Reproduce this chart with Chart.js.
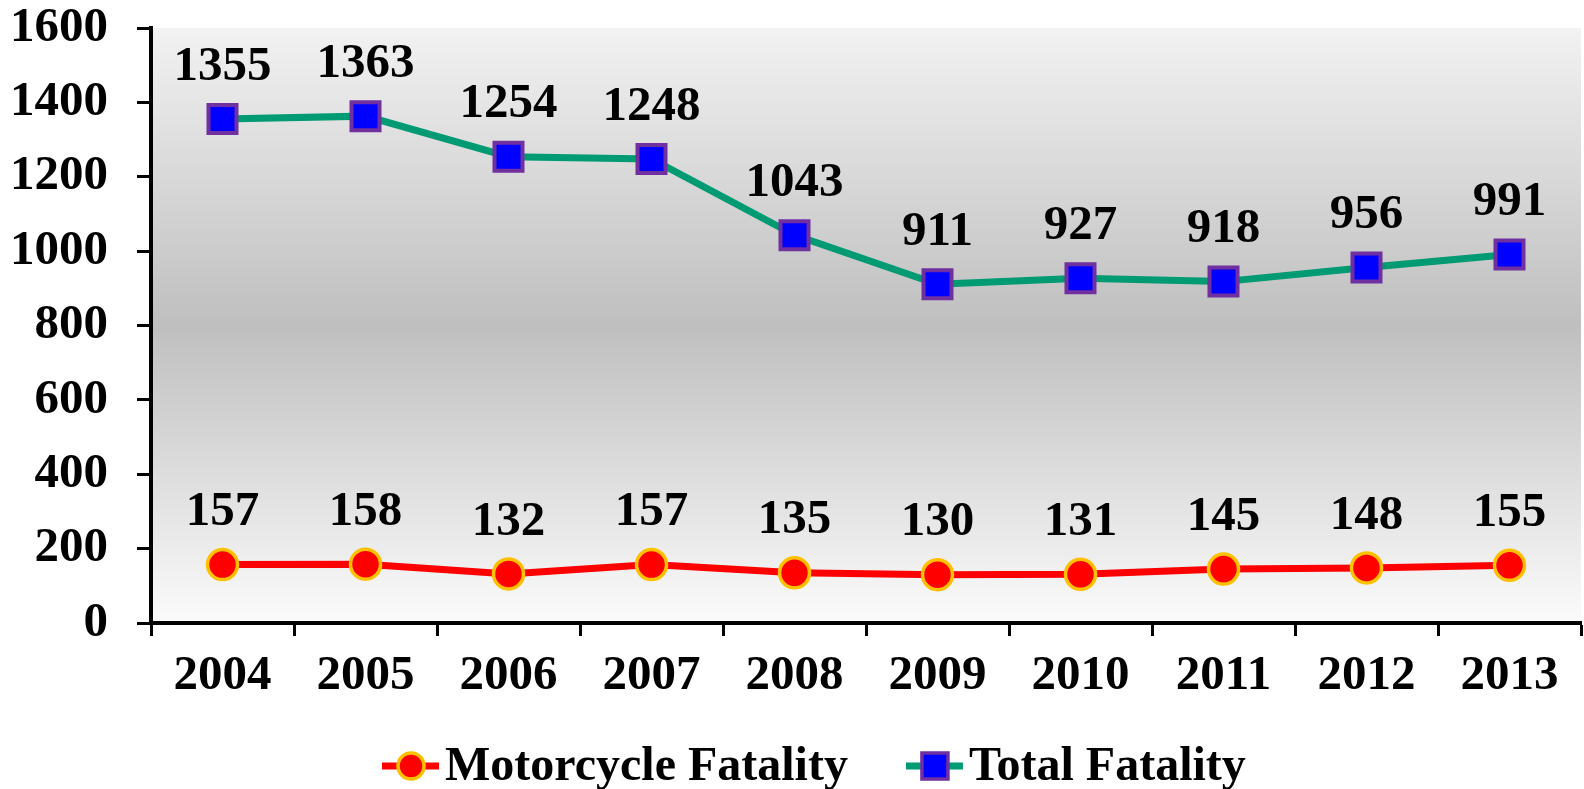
<!DOCTYPE html>
<html>
<head>
<meta charset="utf-8">
<script src="https://cdn.jsdelivr.net/npm/chart.js@4/dist/chart.umd.min.js"></script>
<style>
html,body{margin:0;padding:0;background:#fff;}
#wrap{width:1584px;height:789px;}
</style>
</head>
<body>
<div id="wrap"><canvas id="c" width="1584" height="789"></canvas></div>
<script>
const categories = ['2004','2005','2006','2007','2008','2009','2010','2011','2012','2013'];
const motorcycleFatality = [157,158,132,157,135,130,131,145,148,155];
const totalFatality = [1355,1363,1254,1248,1043,911,927,918,956,991];
const yTicks = [0,200,400,600,800,1000,1200,1400,1600];
const seriesNames = ['Motorcycle Fatality','Total Fatality'];

const FONT = '"Liberation Serif", "Times New Roman", serif';

const bgPlugin = {
  id: 'bg',
  beforeDraw(chart) {
    const {ctx, chartArea: a} = chart;
    const g = ctx.createLinearGradient(0, a.top, 0, a.bottom);
    g.addColorStop(0, '#f2f2f2');
    g.addColorStop(0.5, '#bfbfbf');
    g.addColorStop(1, '#fbfbfb');
    ctx.save();
    ctx.fillStyle = g;
    ctx.fillRect(a.left, a.top, a.right - a.left, a.bottom - a.top);
    ctx.restore();
  }
};

const labelPlugin = {
  id: 'dl',
  afterDatasetsDraw(chart) {
    const ctx = chart.ctx;
    ctx.save();
    ctx.font = 'bold 49px ' + FONT;
    ctx.fillStyle = '#000';
    ctx.textAlign = 'center';
    ctx.textBaseline = 'middle';
    chart.data.datasets.forEach((ds, i) => {
      const meta = chart.getDatasetMeta(i);
      meta.data.forEach((pt, j) => {
        ctx.fillText(String(ds.data[j]), pt.x, pt.y - 52);
      });
    });
    ctx.restore();
  }
};

const legendPlugin = {
  id: 'customLegend',
  afterDraw(chart) {
    const ctx = chart.ctx;
    const y = 766;
    ctx.save();
    ctx.font = 'bold 48px ' + FONT;
    ctx.textBaseline = 'middle';
    ctx.textAlign = 'left';
    let x = 382;
    chart.data.datasets.forEach((ds, i) => {
      ctx.strokeStyle = ds.borderColor;
      ctx.lineWidth = 7;
      ctx.beginPath();
      ctx.moveTo(x, y); ctx.lineTo(x + 57, y);
      ctx.stroke();
      const cx = x + 29;
      ctx.fillStyle = ds.pointBackgroundColor;
      ctx.strokeStyle = ds.pointBorderColor;
      ctx.lineWidth = 3.5;
      ctx.beginPath();
      if (ds.pointStyle === 'rect') {
        ctx.rect(cx - 13, y - 13, 26, 26);
      } else {
        ctx.arc(cx, y, 13, 0, Math.PI * 2);
      }
      ctx.fill(); ctx.stroke();
      ctx.fillStyle = '#000';
      const tx = x + 63;
      ctx.fillText(ds.label, tx, y + 2);
      x = tx + ctx.measureText(ds.label).width + 58;
    });
    ctx.restore();
  }
};

new Chart(document.getElementById('c'), {
  type: 'line',
  data: {
    labels: categories,
    datasets: [
      {
        label: seriesNames[0],
        data: motorcycleFatality,
        borderColor: '#ff0000',
        borderWidth: 7,
        pointStyle: 'circle',
        pointRadius: 15,
        pointBackgroundColor: '#ff0000',
        pointBorderColor: '#ffc000',
        pointBorderWidth: 3.5,
        tension: 0,
        clip: false
      },
      {
        label: seriesNames[1],
        data: totalFatality,
        borderColor: '#009a73',
        borderWidth: 7,
        pointStyle: 'rect',
        pointRadius: 19.8,
        pointBackgroundColor: '#0000ff',
        pointBorderColor: '#7030a0',
        pointBorderWidth: 4,
        tension: 0,
        clip: false
      }
    ]
  },
  options: {
    responsive: false,
    animation: false,
    devicePixelRatio: 1,
    layout: { autoPadding: false, padding: { left: 0, right: 3, top: 0, bottom: 0 } },
    plugins: {
      legend: { display: false },
      tooltip: { enabled: false }
    },
    scales: {
      x: {
        offset: true,
        grid: { offset: true, drawOnChartArea: false, drawTicks: true, tickLength: 13, tickWidth: 3, color: '#000' },
        border: { display: true, color: '#000', width: 4 },
        ticks: { color: '#000', font: { family: FONT, size: 49, weight: 'bold' }, padding: 11, maxRotation: 0, autoSkip: false },
        afterFit(scale) { scale.height = 166; scale.paddingLeft = 0; scale.paddingRight = 0; }
      },
      y: {
        min: 0, max: 1600,
        afterBuildTicks(scale) { scale.ticks = yTicks.map(v => ({ value: v })); },
        grid: { drawOnChartArea: false, drawTicks: true, tickLength: 14, tickWidth: 3, color: '#000' },
        border: { display: true, color: '#000', width: 4 },
        ticks: { color: '#000', font: { family: FONT, size: 49, weight: 'bold' }, padding: 29, callback: v => String(v) },
        afterFit(scale) { scale.width = 151; scale.paddingTop = 28; scale.paddingBottom = 0; }
      }
    }
  },
  plugins: [bgPlugin, labelPlugin, legendPlugin]
});
</script>
</body>
</html>
